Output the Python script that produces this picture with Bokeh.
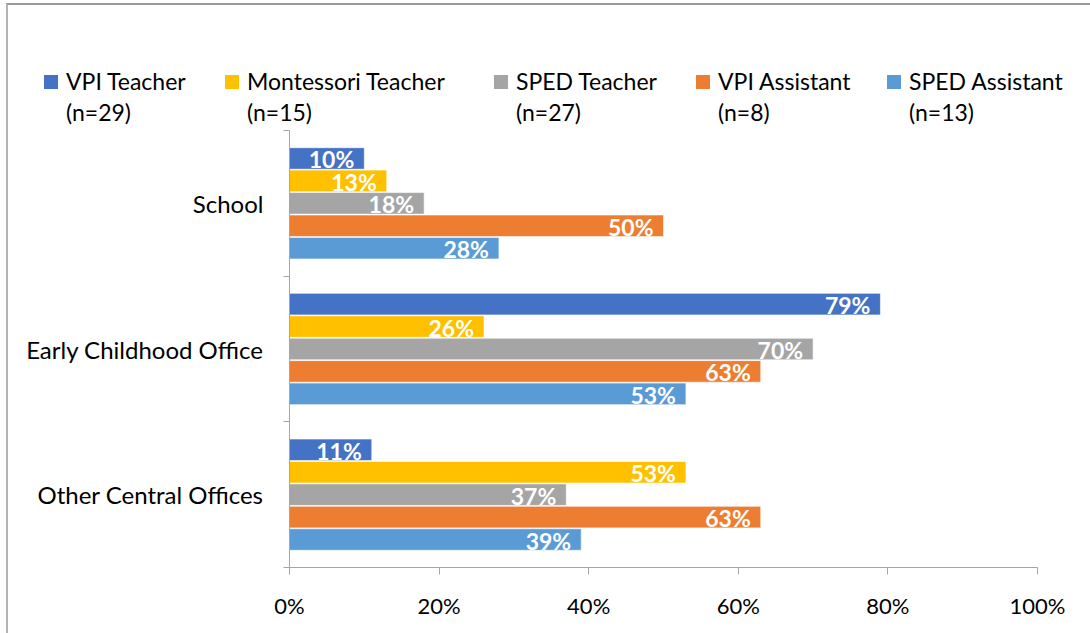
from bokeh.plotting import figure
from bokeh.layouts import column
from bokeh.models import FixedTicker, ColumnDataSource, Range1d, Div
from bokeh.core.properties import value
from bokeh.embed import file_html
from bokeh.resources import INLINE

categories = ["School", "Early Childhood Office", "Other Central Offices"]
series = ["VPI Teacher", "Montessori Teacher", "SPED Teacher", "VPI Assistant", "SPED Assistant"]
series_n = ["(n=29)", "(n=15)", "(n=27)", "(n=8)", "(n=13)"]
vpi_teacher = [10, 79, 11]
montessori_teacher = [13, 26, 53]
sped_teacher = [18, 70, 37]
vpi_assistant = [50, 63, 63]
sped_assistant = [28, 53, 39]
colors = ["#4472C4", "#FFC000", "#A5A5A5", "#ED7D31", "#5B9BD5"]
x_ticks = [0, 20, 40, 60, 80, 100]
x_tick_labels = ["0%", "20%", "40%", "60%", "80%", "100%"]

FONT = "Lato"
all_values = [vpi_teacher, montessori_teacher, sped_teacher, vpi_assistant, sped_assistant]
n_cat = len(categories)

# ---- legend strip (HTML) ----
legend_left = [36, 217, 486, 688, 879]  # layout offsets of legend entries (px)
parts = []
for j, name in enumerate(series):
    parts.append(
        f'<div style="position:absolute;left:{legend_left[j]}px;top:61px;display:flex;align-items:flex-start;">'
        f'<div style="width:14px;height:14px;background:{colors[j]};margin-top:9px;margin-right:8px;flex:none;"></div>'
        f'<div style="white-space:nowrap;">{name}<br>{series_n[j]}</div></div>'
    )
legend_html = (f'<div style="position:relative;width:1082px;height:125px;font-family:{FONT};'
               f'font-size:23px;line-height:31px;color:#000;">' + "".join(parts) + "</div>")
lg = Div(text=legend_html, width=1082, height=125, margin=0)

# ---- main chart ----
p = figure(width=1082, height=503, output_backend="svg", toolbar_location=None,
           x_range=Range1d(0, 100), y_range=Range1d(0, n_cat),
           min_border_left=281, min_border_right=53, min_border_top=0, min_border_bottom=66)
p.outline_line_color = None
p.grid.grid_line_color = None

step = 0.154
bar_h = 0.148
for j, (name, vals) in enumerate(zip(series, all_values)):
    ys = [n_cat - i - 0.5 + (2 - j) * step for i in range(n_cat)]
    src = ColumnDataSource(dict(y=ys, right=vals, lab=[f"{v}%" for v in vals]))
    p.hbar(y="y", left=0, right="right", height=bar_h, source=src,
           fill_color=colors[j], line_color="white", line_width=0.6)
    p.text(x="right", y="y", text="lab", source=src, text_align="right", text_baseline="middle",
           x_offset=-10, y_offset=1, text_color="white", text_font_style="bold",
           text_font_size="23px", text_font=value(FONT))

xa = p.xaxis[0]
xa.ticker = FixedTicker(ticks=x_ticks, minor_ticks=[])
xa.major_label_overrides = {t: l for t, l in zip(x_ticks, x_tick_labels)}
xa.major_tick_out = 7
xa.major_tick_in = 0
xa.minor_tick_out = 0
xa.major_label_standoff = 17
xa.axis_line_color = "#a6a6a6"
xa.major_tick_line_color = "#a6a6a6"
xa.major_label_text_font = FONT
xa.major_label_text_font_size = "22px"
xa.major_label_text_color = "#000000"

ya = p.yaxis[0]
y_centers = [n_cat - i - 0.5 for i in range(n_cat)]
ya.ticker = FixedTicker(ticks=y_centers, minor_ticks=[float(k) for k in range(n_cat + 1)])
ya.major_label_overrides = {c: name for c, name in zip(y_centers, categories)}
ya.major_tick_out = 0
ya.major_tick_in = 0
ya.minor_tick_out = 6
ya.minor_tick_in = 0
ya.major_label_standoff = 20
ya.axis_line_color = "#a6a6a6"
ya.minor_tick_line_color = "#a6a6a6"
ya.major_label_text_font = FONT
ya.major_label_text_font_size = "24px"
ya.major_label_text_color = "#000000"

layout = column(lg, p, spacing=0,
                styles={"margin-left": "6px", "margin-top": "3px",
                        "border-left": "2px solid #b4b4b4", "border-top": "2px solid #9a9a9a"})
open("out.html", "w").write(file_html(layout, INLINE))
